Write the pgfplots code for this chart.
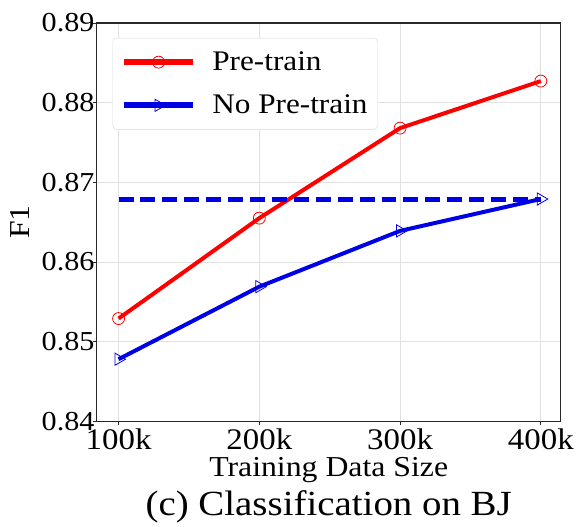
\documentclass[border=0pt]{standalone}
\usepackage{fontspec}
\setmainfont[FakeStretch=1.1]{Liberation Serif}
\usepackage{pgfplots}
\pgfplotsset{compat=1.18}
\definecolor{gridgray}{RGB}{225,225,225}
\definecolor{axgray}{RGB}{40,40,40}
\definecolor{mred}{RGB}{255,0,0}
\definecolor{mblue}{RGB}{0,0,230}
\begin{document}
\begin{tikzpicture}
\begin{axis}[
  scale only axis,
  width=466bp, height=400bp,
  at={(0,0)}, anchor=south west,
  xmin=0.844, xmax=4.142,
  ymin=0.84, ymax=0.89,
  xtick={1,2,3,4},
  xticklabels={\textrm{100k},\textrm{200k},\textrm{300k},\textrm{400k}},
  ytick={0.84,0.85,0.86,0.87,0.88,0.89},
  yticklabels={\textrm{0.84},\textrm{0.85},\textrm{0.86},\textrm{0.87},\textrm{0.88},\textrm{0.89}},
  scaled y ticks=false,
  xticklabel style={font=\rmfamily\fontsize{30bp}{33bp}\selectfont, anchor=base, yshift=-24bp},
  yticklabel style={font=\rmfamily\fontsize{27.5bp}{30bp}\selectfont, anchor=east, inner sep=0pt, xshift=2bp},
  xtick pos=left, ytick pos=left,
  tick align=outside,
  major tick length=4bp,
  tick style={axgray, line width=0.8bp},
  axis line style={axgray, line width=1.2bp},
  grid=major,
  major grid style={gridgray, line width=0.8bp},
  xlabel={Training Data Size},
  ylabel={F1},
  every axis x label/.style={at={(axis description cs:0.5,-0.1375)}, anchor=base, font=\rmfamily\fontsize{29bp}{32bp}\selectfont},
  every axis y label/.style={at={(axis description cs:-0.165,0.5)}, rotate=90, anchor=center, font=\rmfamily\fontsize{29bp}{32bp}\selectfont},
  legend style={at={(axis description cs:0.0343,0.9625)}, anchor=north west,
    draw=gray!30, rounded corners=4bp, fill=white,
    font=\rmfamily\fontsize{28.5bp}{31bp}\selectfont,
    inner xsep=8bp, inner ysep=12bp, row sep=19bp,
    /tikz/every odd column/.append style={column sep=14bp}},
  legend cell align=left,
  legend image code/.code={\draw[mark repeat=2,mark phase=2,#1,line width=6bp] plot coordinates {(0bp,0bp) (35bp,0bp) (70bp,0bp)};},
  clip=false,
]
\addplot[mred, line width=4bp, mark=o, mark size=6bp, mark options={solid, fill=white, line width=0.8bp}]
  coordinates {(1,0.8529) (2,0.8655) (3,0.8768) (4,0.8827)};
\addlegendentry{Pre-train}
\addplot[mblue, line width=4bp, mark=triangle, mark size=7bp, mark options={solid, rotate=-90, fill=white, line width=0.8bp}]
  coordinates {(1,0.8478) (2,0.8569) (3,0.8639) (4,0.8679)};
\addlegendentry{No Pre-train}
\addplot[mblue, line width=5bp, dash pattern=on 15bp off 7bp, forget plot]
  coordinates {(1,0.8679) (4,0.8679)};
\node[font=\rmfamily\fontsize{35.5bp}{38bp}\selectfont, anchor=base] at (axis description cs:0.5,-0.2375) {(c) Classification on BJ};
\end{axis}
\path[use as bounding box] (-97bp,-101bp) rectangle (480bp,423bp);
\end{tikzpicture}
\end{document}
